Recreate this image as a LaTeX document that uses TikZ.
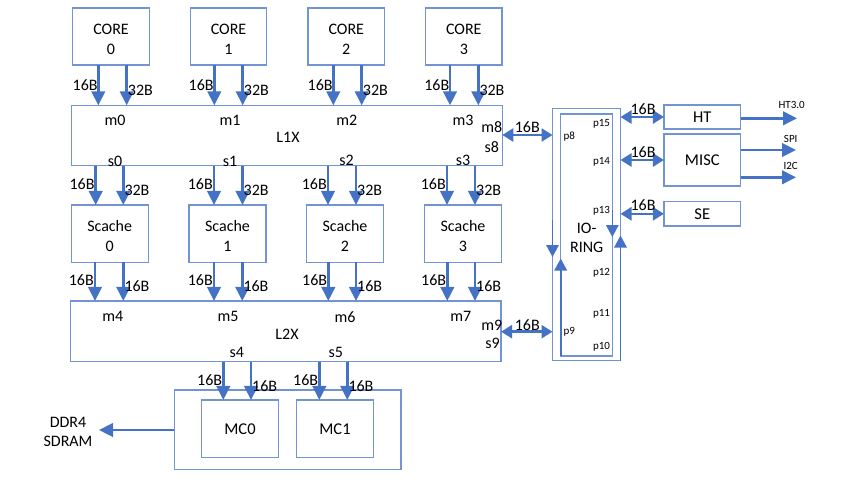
\documentclass[tikz,border=0pt]{standalone}
\usepackage{fontspec}
\setmainfont{Carlito}
\usetikzlibrary{arrows.meta}
\definecolor{boxblue}{HTML}{7294D4}
\definecolor{arrblue}{HTML}{4472C4}
\tikzset{
  box/.style={draw=boxblue, line width=1.3pt, inner sep=0pt, outer sep=0pt, align=center,
              font=\fontsize{16}{19.5}\selectfont},
  bigbox/.style={box, font=\fontsize{16.5}{20}\selectfont},
  boxtext/.style={inner sep=0pt, align=center, font=\fontsize{16}{19.5}\selectfont},
  arr/.style={draw=arrblue, line width=2.6pt, -{Triangle[length=14pt,width=13.5pt]}},
  dbl/.style={draw=arrblue, line width=2.6pt, {Triangle[length=11pt,width=13pt]}-{Triangle[length=11pt,width=13pt]}},
  ringarr/.style={draw=arrblue, line width=1.6pt, -{Triangle[length=12pt,width=12.5pt]}},
  lbl/.style={inner sep=0pt, font=\fontsize{16}{19}\selectfont},
  plbl/.style={inner sep=0pt, font=\fontsize{11}{13}\selectfont},
  tiny/.style={inner sep=0pt, font=\fontsize{11}{13}\selectfont},
}
\begin{document}
\begin{tikzpicture}[x=1pt,y=-1pt]
\useasboundingbox (0,0) rectangle (867,480);

% cores
\foreach \i/\x in {0/111, 1/228.5, 2/346.3, 3/463.8} {
  \node[box, minimum width=76.5pt, minimum height=57pt] (core\i) at (\x,36.5) {};
  \node[boxtext] (core\i t) at ([yshift=-3pt]core\i.center) {CORE\\\i};
}

% L1 crossbar
\node[box, minimum width=430.6pt, minimum height=60.4pt] (l1x) at (287,135.5) {};
\node[lbl] (l1xt) at (288,137) {L1X};

% secondary caches
\foreach \i/\x in {0/109.7, 1/227.5, 2/345, 3/463} {
  \node[box, minimum width=77pt, minimum height=57.3pt] (sc\i) at (\x,233.6) {};
  \node[boxtext] (sc\i t) at ([yshift=-2.5pt]sc\i.center) {Scache\\\i};
}

% L2 crossbar
\node[box, minimum width=430.3pt, minimum height=60.7pt] (l2x) at (285.9,331.3) {};
\node[lbl] (l2xt) at (287,334) {L2X};

% memory controllers
\node[box, minimum width=226.7pt, minimum height=79.3pt] (mc) at (287.7,429.7) {};
\node[bigbox, minimum width=76.6pt, minimum height=57.7pt] (mc0) at (240,428.8) {MC0};
\node[bigbox, minimum width=76.6pt, minimum height=57.7pt] (mc1) at (335,428.8) {MC1};

% IO ring
\node[box, minimum width=68pt, minimum height=252.4pt] (ioo) at (586.5,234.5) {};
\node[box, minimum width=51.6pt, minimum height=242pt] (ioi) at (586.5,235) {};
\node[lbl, align=center] (iot) at (586.7,238) {IO-\\RING};

% peripherals
\node[bigbox, minimum width=76.7pt, minimum height=24pt] (ht) at (702.3,117) {HT};
\node[bigbox, minimum width=76.7pt, minimum height=52pt] (misc) at (702.3,160) {MISC};
\node[bigbox, minimum width=76.7pt, minimum height=24.3pt] (se) at (702.3,213.8) {SE};

% port labels on the crossbars
\foreach \n/\x/\y in {m0/115/120, m1/230/120, m2/346.7/120, m3/463/120,
                     s0/115/161, s1/230/161, s2/346.5/160.5, s3/463/160.5,
                     m8/491.7/126.7, s8/491.7/146.7,
                     m4/112.7/316.7, m5/228/316.7, m6/345/316.7, m7/460.7/316.7,
                     m9/491.7/325, s9/492.5/343, s4/236.7/352.7, s5/335.7/352.5}
  \node[lbl] (p\n) at (\x,\y) {\n};

% ports on the IO ring
\foreach \n/\x/\y in {p15/601.5/124, p8/569.3/136.7, p14/601.5/162, p13/601.5/211,
                     p12/601.5/273, p11/601.5/314, p9/569.3/332, p10/601.5/346.5}
  \node[plbl] (l\n) at (\x,\y) {\n};

% cores to L1X
\foreach \i/\a/\b in {0/98.3/126.7, 1/214.3/242.7, 2/333.3/361.7, 3/450/478.3} {
  \coordinate (ua\i) at (\a,0);
  \coordinate (ub\i) at (\b,0);
  \draw[arr] (core\i.south -| ua\i) -- (l1x.north -| ua\i);
  \draw[arr] (core\i.south -| ub\i) -- (l1x.north -| ub\i);
  \node[lbl, anchor=east] (ula\i) at ([xshift=-0.5pt,yshift=-85pt]ua\i) {16B};
  \node[lbl, anchor=west] (ulb\i) at ([xshift=1pt,yshift=-90pt]ub\i) {32B};
}

% L1X to secondary caches
\foreach \i/\a/\b in {0/95.7/123.3, 1/214/242.5, 2/328/356, 3/447/475} {
  \coordinate (va\i) at (\a,0);
  \coordinate (vb\i) at (\b,0);
  \draw[arr] (l1x.south -| va\i) -- (sc\i.north -| va\i);
  \draw[arr] (l1x.south -| vb\i) -- (sc\i.north -| vb\i);
  \node[lbl, anchor=east] (vla\i) at ([xshift=-1pt,yshift=-184pt]va\i) {16B};
  \node[lbl, anchor=west] (vlb\i) at ([xshift=1pt,yshift=-190pt]vb\i) {32B};
}

% secondary caches to L2X
\foreach \i/\a/\b in {0/95/123.3, 1/214/242.3, 2/328.3/356, 3/447.3/475} {
  \coordinate (wa\i) at (\a,0);
  \coordinate (wb\i) at (\b,0);
  \draw[arr] (sc\i.south -| wa\i) -- (l2x.north -| wa\i);
  \draw[arr] (sc\i.south -| wb\i) -- (l2x.north -| wb\i);
  \node[lbl, anchor=east] (wla\i) at ([xshift=-1pt,yshift=-280pt]wa\i) {16B};
  \node[lbl, anchor=west] (wlb\i) at ([xshift=1pt,yshift=-286.5pt]wb\i) {16B};
}

% L2X to memory controllers
\foreach \i/\a/\b in {0/223.3/251, 1/319.3/347.3} {
  \coordinate (xa\i) at (\a,0);
  \coordinate (xb\i) at (\b,0);
  \draw[arr] (l2x.south -| xa\i) -- (mc\i.north -| xa\i);
  \draw[arr] (l2x.south -| xb\i) -- (mc\i.north -| xb\i);
  \node[lbl, anchor=east] (xla\i) at ([xshift=-1pt,yshift=-380.5pt]xa\i) {16B};
  \node[lbl, anchor=west] (xlb\i) at ([xshift=1pt,yshift=-386pt]xb\i) {16B};
}

% DRAM interface
\coordinate (dram) at (99,430);
\draw[arr] (mc.west |- dram) -- (dram);
\node[lbl, align=center, font=\fontsize{16}{19}\selectfont] (dramt) at (68,432) {DDR4\\SDRAM};

% crossbars to IO ring
\coordinate (r1) at (0,135);
\coordinate (r2) at (0,331.7);
\draw[dbl] (l1x.east |- r1) -- (ioo.west |- r1);
\draw[dbl] (l2x.east |- r2) -- (ioo.west |- r2);
\node[lbl] (r1l) at (527.3,127.5) {16B};
\node[lbl] (r2l) at (527.3,325) {16B};

% IO ring to peripherals
\draw[dbl] (ioo.east |- ht.west) -- (ht.west);
\coordinate (mr) at (0,160);
\draw[dbl] (ioo.east |- mr) -- (misc.west |- mr);
\draw[dbl] (ioo.east |- se.west) -- (se.west);
\node[lbl] (htl) at (643,109) {16B};
\node[lbl] (miscl) at (643,152) {16B};
\node[lbl] (sel) at (643,205) {16B};

% ring direction markers
\coordinate (ra) at (552.5,220);
\coordinate (rb) at (552.5,257);
\draw[ringarr] (ra) -- (rb);
\coordinate (rc) at (560.7,258.5);
\draw[ringarr] (ioi.south -| rc) -- (rc);
\coordinate (rd) at (612.3,210);
\coordinate (re) at (612.3,237);
\draw[ringarr] (rd) -- (re);
\coordinate (rf) at (620.5,235.5);
\draw[ringarr] (ioo.south -| rf) -- (rf);

% external interfaces
\coordinate (eht) at (797,118.3);
\coordinate (espi) at (796,150);
\coordinate (ei2c) at (796,177.3);
\draw[arr] (ht.east |- eht) -- (eht);
\draw[arr] (misc.east |- espi) -- (espi);
\draw[arr] (misc.east |- ei2c) -- (ei2c);
\node[tiny] (ehtl) at (791.7,104.5) {HT3.0};
\node[tiny] (espil) at (790.7,138.5) {SPI};
\node[tiny] (ei2cl) at (790.7,165.5) {I2C};
\end{tikzpicture}
\end{document}
